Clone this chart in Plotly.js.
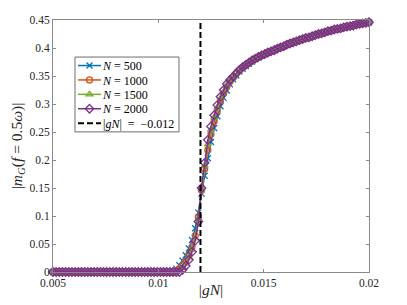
<!DOCTYPE html>
<html>
<head>
<meta charset="utf-8">
<script src="https://cdn.plot.ly/plotly-3.0.1.min.js"></script>
<style>html,body{margin:0;padding:0;background:#fff;}#chart{width:407px;height:305px;}</style>
</head>
<body>
<div id="chart"></div>
<script>
// |gN| grid
const gN = [0.005,0.00515,0.0053,0.00545,0.0056,0.00575,0.0059,0.00605,0.0062,0.00635,
0.0065,0.00665,0.0068,0.00695,0.0071,0.00725,0.0074,0.00755,0.0077,0.00785,
0.008,0.00815,0.0083,0.00845,0.0086,0.00875,0.0089,0.00905,0.0092,0.00935,
0.0095,0.00965,0.0098,0.00995,0.0101,0.01025,0.0104,0.01055,0.0107,0.01085,
0.011,0.01115,0.0113,0.01145,0.0116,0.01175,0.0119,0.01205,0.0122,0.01235,
0.0125,0.01265,0.0128,0.01295,0.0131,0.01325,0.0134,0.01355,0.0137,0.01385,
0.014,0.01415,0.0143,0.01445,0.0146,0.01475,0.0149,0.01505,0.0152,0.01535,
0.0155,0.01565,0.0158,0.01595,0.0161,0.01625,0.0164,0.01655,0.0167,0.01685,
0.017,0.01715,0.0173,0.01745,0.0176,0.01775,0.0179,0.01805,0.0182,0.01835,
0.0185,0.01865,0.0188,0.01895,0.0191,0.01925,0.0194,0.01955,0.0197,0.01985,0.02];

const mN500 = [0,0,0,0,0,0,0,0,0,0, 0,0,0,0,0,0,0,0,0,0, 0,0,0,0,0,0,0,0,0,0,
0,0,0,0,0,0,0,0,0.002,0.006,
0.012,0.020,0.030,0.042,0.057,0.078,0.106,0.140,0.172,0.203,
0.232,0.257,0.278,0.296,0.311,0.324,0.335,0.344,0.351,0.358,
0.363,0.368,0.372,0.376,0.380,0.383,0.386,0.389,0.392,0.394,
0.396,0.399,0.401,0.403,0.406,0.408,0.410,0.412,0.414,0.416,
0.418,0.419,0.421,0.423,0.425,0.426,0.428,0.430,0.431,0.433,
0.434,0.435,0.437,0.438,0.439,0.440,0.442,0.443,0.444,0.445,0.446];

const mN1000 = [0,0,0,0,0,0,0,0,0,0, 0,0,0,0,0,0,0,0,0,0, 0,0,0,0,0,0,0,0,0,0,
0,0,0,0,0,0,0,0,0,0.002,
0.006,0.012,0.020,0.031,0.045,0.065,0.098,0.146,0.184,0.218,
0.246,0.269,0.288,0.305,0.319,0.331,0.340,0.347,0.354,0.360,
0.365,0.369,0.373,0.377,0.381,0.384,0.387,0.389,0.392,0.394,
0.396,0.399,0.401,0.403,0.406,0.408,0.410,0.412,0.414,0.416,
0.418,0.419,0.421,0.423,0.425,0.426,0.428,0.430,0.431,0.433,
0.434,0.435,0.437,0.438,0.439,0.440,0.442,0.443,0.444,0.445,0.446];

const mN1500 = [0,0,0,0,0,0,0,0,0,0, 0,0,0,0,0,0,0,0,0,0, 0,0,0,0,0,0,0,0,0,0,
0,0,0,0,0,0,0,0,0,0,
0.002,0.007,0.015,0.026,0.040,0.060,0.094,0.148,0.190,0.228,
0.254,0.276,0.294,0.310,0.322,0.334,0.342,0.348,0.355,0.361,
0.366,0.370,0.374,0.378,0.381,0.384,0.387,0.389,0.392,0.394,
0.396,0.399,0.401,0.403,0.406,0.408,0.410,0.412,0.414,0.416,
0.418,0.419,0.421,0.423,0.425,0.426,0.428,0.430,0.431,0.433,
0.434,0.435,0.437,0.438,0.439,0.440,0.442,0.443,0.444,0.445,0.446];

const mN2000 = [0,0,0,0,0,0,0,0,0,0, 0,0,0,0,0,0,0,0,0,0, 0,0,0,0,0,0,0,0,0,0,
0,0,0,0,0,0,0,0,0,0,
0,0.004,0.011,0.022,0.036,0.056,0.090,0.150,0.195,0.236,
0.260,0.280,0.298,0.313,0.325,0.336,0.343,0.349,0.355,0.361,
0.366,0.370,0.374,0.378,0.381,0.384,0.387,0.389,0.392,0.394,
0.396,0.399,0.401,0.403,0.406,0.408,0.410,0.412,0.414,0.416,
0.418,0.419,0.421,0.423,0.425,0.426,0.428,0.430,0.431,0.433,
0.434,0.435,0.437,0.438,0.439,0.440,0.442,0.443,0.444,0.445,0.446];

const dashX = [0.012, 0.012];
const dashY = [0, 0.45];

const xTicks = [0.005, 0.01, 0.015, 0.02];
const xTickText = ['0.005', '0.01', '0.015', '0.02'];
const yTicks = [0, 0.05, 0.1, 0.15, 0.2, 0.25, 0.3, 0.35, 0.4, 0.45];
const yTickText = ['0', '0.05', '0.1', '0.15', '0.2', '0.25', '0.3', '0.35', '0.4', '0.45'];

const seriesNames = ['<i>N</i> = 500', '<i>N</i> = 1000', '<i>N</i> = 1500', '<i>N</i> = 2000'];
const seriesData = [mN500, mN1000, mN1500, mN2000];
const colors = ['#0072BD', '#D95319', '#77AC30', '#7E2F8E'];
const symbols = ['x-thin-open', 'circle-open', 'triangle-up-open', 'diamond-open'];
const sizes = [6, 6, 6, 6.5];

const SERIF = "Liberation Serif";

const traces = seriesData.map((ys, i) => ({
  x: gN, y: ys, type: 'scatter', mode: 'lines+markers', name: seriesNames[i],
  cliponaxis: false,
  line: {color: colors[i], width: 1.5},
  marker: {symbol: symbols[i], size: sizes[i], color: colors[i], line: {color: colors[i], width: 1.3}}
}));
traces.push({
  x: dashX, y: dashY, type: 'scatter', mode: 'lines', name: '|<i>gN</i>|  =  −0.012',
  line: {color: '#000', width: 2, dash: '6px,3px'}
});

const axisCommon = {
  showgrid: false, zeroline: false, showline: true, mirror: 'ticks',
  linecolor: '#8a8a8a', linewidth: 1, ticks: 'inside', ticklen: 3, tickcolor: '#8a8a8a',
  tickfont: {family: SERIF, size: 11.5, color: '#262626'}
};

const layout = {
  width: 407, height: 305,
  margin: {l: 53, r: 38, t: 20, b: 33},
  paper_bgcolor: '#fff', plot_bgcolor: '#fff',
  showlegend: true,
  legend: {
    x: 0.0696, y: 0.853, xanchor: 'left', yanchor: 'top',
    bgcolor: 'rgba(0,0,0,0)', borderwidth: 0,
    font: {family: SERIF, size: 12, color: '#000'},
    itemwidth: 30, tracegroupgap: 0
  },
  shapes: [{
    type: 'rect', xref: 'paper', yref: 'paper', layer: 'above',
    x0: 0.0696, x1: 0.3987, y0: 0.556, y1: 0.853,
    fillcolor: '#fff', line: {color: '#6e6e6e', width: 1}
  }],
  xaxis: Object.assign({}, axisCommon, {
    range: [0.005, 0.02], tickvals: xTicks, ticktext: xTickText,
    title: {text: '|<i>gN</i>|', font: {family: SERIF, size: 15.5, color: '#262626'}, standoff: 0}
  }),
  yaxis: Object.assign({}, axisCommon, {
    range: [0, 0.45], tickvals: yTicks, ticktext: yTickText,
    title: {text: '|<i>m</i><sub><i>G</i></sub>(<i>f</i> = 0.5<i>ω</i>)|', font: {family: SERIF, size: 15.5, color: '#262626'}, standoff: 3}
  })
};

function compactLegend() {
  const leg = document.querySelector('.legend');
  if (leg) {
    const items = leg.querySelectorAll('g.traces');
    const step = 14.4, top = 8.5;
    items.forEach((g, i) => {
      g.setAttribute('transform', 'translate(1,' + (top + i * step) + ')');
      g.querySelectorAll('.legendlines path').forEach(p => p.setAttribute('d', 'M2,0h23'));
      g.querySelectorAll('.legendpoints path').forEach(p => p.setAttribute('transform', 'translate(13.5,0)'));
      const t = g.querySelector('text.legendtext');
      if (t) t.setAttribute('x', '27');
    });
  }
  const xt = document.querySelector('.g-xtitle text');
  if (xt) {
    const yv = parseFloat(xt.getAttribute('y'));
    if (!isNaN(yv)) xt.setAttribute('y', String(yv - 4));
  }
}

Plotly.newPlot('chart', traces, layout, {displayModeBar: false, staticPlot: true}).then(compactLegend);
</script>
</body>
</html>
